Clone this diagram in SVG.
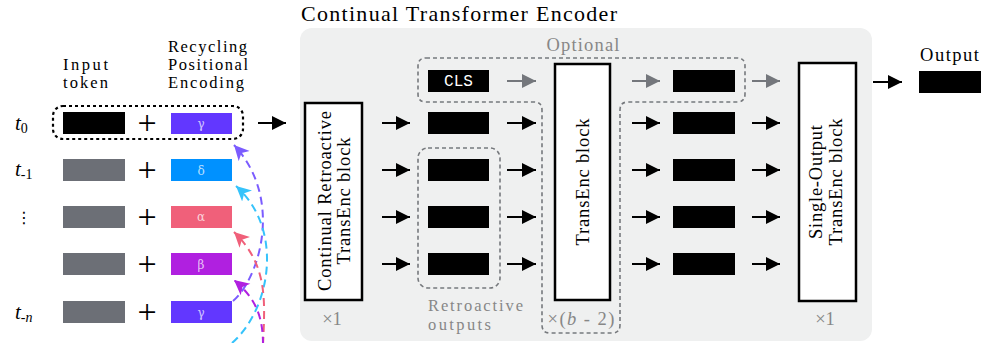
<svg xmlns="http://www.w3.org/2000/svg" width="981" height="343" viewBox="0 0 981 343">
<defs>
<style>
svg{font-family:"Liberation Serif","Times New Roman",serif;font-size:18.5px}
.g{fill:#878787}
.gl{fill:#fff;fill-opacity:.72;font-family:"DejaVu Serif",serif;font-size:12px;text-anchor:middle}
.tok{fill:#6c6f76}
.blk{fill:#000}
.arr{stroke:#000;stroke-width:2;marker-end:url(#ah)}
.garr{stroke:#74777c;stroke-width:2;marker-end:url(#gh)}
.box{fill:#fff;stroke:#000;stroke-width:2.5}
.dash{fill:none;stroke:#76797d;stroke-width:1.6;stroke-dasharray:4 3}
.arc{fill:none;stroke-width:2;stroke-dasharray:8 5}
.plus{font-size:34px;text-anchor:middle}
.sm{font-size:16.5px}
</style>
<marker id="ah" markerUnits="userSpaceOnUse" markerWidth="15" markerHeight="15" refX="14" refY="7.5" orient="auto"><path d="M0,0.5 L14,7.5 L0,14.5 Z" fill="#000"/></marker>
<marker id="gh" markerUnits="userSpaceOnUse" markerWidth="15" markerHeight="15" refX="14" refY="7.5" orient="auto"><path d="M0,0.5 L14,7.5 L0,14.5 Z" fill="#74777c"/></marker>
<marker id="hv" markerUnits="userSpaceOnUse" markerWidth="16" markerHeight="16" refX="15" refY="8" orient="auto"><path d="M0,0.5 L15,8 L0,15.5 L4,8 Z" fill="#7b5cff"/></marker>
<marker id="hc" markerUnits="userSpaceOnUse" markerWidth="16" markerHeight="16" refX="15" refY="8" orient="auto"><path d="M0,0.5 L15,8 L0,15.5 L4,8 Z" fill="#36c3fb"/></marker>
<marker id="hp" markerUnits="userSpaceOnUse" markerWidth="16" markerHeight="16" refX="15" refY="8" orient="auto"><path d="M0,0.5 L15,8 L0,15.5 L4,8 Z" fill="#f0607a"/></marker>
<marker id="hm" markerUnits="userSpaceOnUse" markerWidth="16" markerHeight="16" refX="15" refY="8" orient="auto"><path d="M0,0.5 L15,8 L0,15.5 L4,8 Z" fill="#b020e0"/></marker>
</defs>

<!-- encoder container -->
<g id="encoder">
<rect x="300" y="28" width="572" height="313" rx="12" fill="#eff0f0"/>
<text x="301" y="21" font-size="22" textLength="316">Continual Transformer Encoder</text>
</g>

<!-- headers -->
<g id="header-input">
<text class="sm" x="63" y="70" textLength="45">Input</text>
<text class="sm" x="63" y="88" textLength="45">token</text>
</g>
<g id="header-pe">
<text class="sm" x="168" y="52" textLength="79">Recycling</text>
<text class="sm" x="168" y="70" textLength="80">Positional</text>
<text class="sm" x="168" y="88" textLength="76">Encoding</text>
</g>

<!-- time labels -->
<g id="time-labels">
<text x="15" y="130" font-style="italic" font-size="21">t<tspan font-style="normal" font-size="14" dy="3">0</tspan></text>
<text x="15" y="176" font-style="italic" font-size="21">t<tspan font-style="normal" font-size="14" dy="3">-1</tspan></text>
<text x="24" y="223" font-family="DejaVu Sans, sans-serif" font-size="16" text-anchor="middle">⋮</text>
<text x="15" y="319" font-style="italic" font-size="21">t<tspan font-style="normal" font-size="14" dy="3">-</tspan><tspan font-size="14">n</tspan></text>
</g>

<!-- input rows -->
<g id="row-t0">
<rect class="blk" x="63" y="112" width="62" height="22"/>
<text class="plus" x="147" y="134">+</text>
<rect x="171" y="113" width="61" height="21" fill="#6237ff"/>
<text class="gl" x="201" y="128">γ</text>
<rect x="53" y="106" width="190" height="33" rx="10" fill="none" stroke="#000" stroke-width="2.2" stroke-dasharray="3 3"/>
</g>
<g id="row-t1">
<rect class="tok" x="63" y="159" width="62" height="22"/>
<text class="plus" x="147" y="181">+</text>
<rect x="171" y="159" width="61" height="22" fill="#0091ff"/>
<text class="gl" x="201" y="175">δ</text>
</g>
<g id="row-t2">
<rect class="tok" x="63" y="206" width="62" height="22"/>
<text class="plus" x="147" y="228">+</text>
<rect x="171" y="206" width="61" height="22" fill="#f0607a"/>
<text class="gl" x="201" y="221">α</text>
</g>
<g id="row-t3">
<rect class="tok" x="63" y="253" width="62" height="22"/>
<text class="plus" x="147" y="275">+</text>
<rect x="171" y="253" width="61" height="22" fill="#b020e0"/>
<text class="gl" x="201" y="269">β</text>
</g>
<g id="row-tn">
<rect class="tok" x="63" y="301" width="62" height="22"/>
<text class="plus" x="147" y="323">+</text>
<rect x="171" y="301" width="61" height="22" fill="#6237ff"/>
<text class="gl" x="201" y="317">γ</text>
</g>

<!-- first block -->
<g id="block-retro">
<rect class="box" x="305" y="103" width="57" height="197"/>
<text transform="translate(331,201) rotate(-90)" text-anchor="middle" textLength="180">Continual Retroactive</text>
<text transform="translate(350,201) rotate(-90)" text-anchor="middle" textLength="127">TransEnc block</text>
<text class="g" x="332" y="325" text-anchor="middle">×1</text>
</g>

<!-- column 1 -->
<g id="col1">
<rect class="blk" x="428" y="70" width="61" height="22"/>
<text x="458.5" y="86" font-family="Liberation Mono, monospace" font-size="16" fill="#fff" text-anchor="middle">CLS</text>
<rect class="blk" x="428" y="112" width="61" height="22"/>
<rect class="blk" x="428" y="159" width="61" height="22"/>
<rect class="blk" x="428" y="206" width="61" height="22"/>
<rect class="blk" x="428" y="253" width="61" height="22"/>
</g>
<g id="retro-outputs">
<rect class="dash" x="418" y="148" width="82" height="140" rx="10"/>
<text class="g sm" x="428" y="311" textLength="95">Retroactive</text>
<text class="g sm" x="428" y="330" textLength="63">outputs</text>
</g>

<!-- optional + repeated block region -->
<g id="optional">
<path class="dash" d="M426,58 H737 Q745,58 745,66 V94 Q745,102 737,102 H628 Q620,102 620,110 V325 Q620,333 612,333 H550 Q542,333 542,325 V110 Q542,102 534,102 H426 Q418,102 418,94 V66 Q418,58 426,58 Z"/>
<text class="g" x="583" y="51" text-anchor="middle" textLength="73">Optional</text>
<text class="g" x="581" y="325" text-anchor="middle" textLength="67">×(<tspan font-style="italic">b</tspan> - 2)</text>
</g>

<g id="block-transenc">
<rect class="box" x="555" y="64" width="55" height="236"/>
<text transform="translate(589,182) rotate(-90)" text-anchor="middle" textLength="127">TransEnc block</text>
</g>

<!-- column 2 -->
<g id="col2">
<rect class="blk" x="673" y="70" width="62" height="22"/>
<rect class="blk" x="673" y="112" width="62" height="22"/>
<rect class="blk" x="673" y="159" width="62" height="22"/>
<rect class="blk" x="673" y="206" width="62" height="22"/>
<rect class="blk" x="673" y="253" width="62" height="22"/>
</g>

<g id="block-single">
<rect class="box" x="799" y="63" width="57" height="238"/>
<text transform="translate(822,182) rotate(-90)" text-anchor="middle" textLength="114">Single-Output</text>
<text transform="translate(842,182) rotate(-90)" text-anchor="middle" textLength="127">TransEnc block</text>
<text class="g" x="825" y="325" text-anchor="middle">×1</text>
</g>

<g id="output">
<text x="920" y="61" textLength="59">Output</text>
<rect class="blk" x="919" y="71" width="62" height="22"/>
</g>

<!-- connectors -->
<g id="connectors">
<line class="arr" x1="258" y1="123" x2="286" y2="123"/>

<line class="arr" x1="382" y1="123" x2="410" y2="123"/>
<line class="arr" x1="382" y1="170" x2="410" y2="170"/>
<line class="arr" x1="382" y1="217" x2="410" y2="217"/>
<line class="arr" x1="382" y1="264" x2="410" y2="264"/>

<line class="garr" x1="507" y1="81" x2="536" y2="81"/>
<line class="arr" x1="507" y1="123" x2="536" y2="123"/>
<line class="arr" x1="507" y1="170" x2="536" y2="170"/>
<line class="arr" x1="507" y1="217" x2="536" y2="217"/>
<line class="arr" x1="507" y1="264" x2="536" y2="264"/>

<line class="garr" x1="632" y1="81" x2="660" y2="81"/>
<line class="arr" x1="632" y1="123" x2="660" y2="123"/>
<line class="arr" x1="632" y1="170" x2="660" y2="170"/>
<line class="arr" x1="632" y1="217" x2="660" y2="217"/>
<line class="arr" x1="632" y1="264" x2="660" y2="264"/>

<line class="garr" x1="752" y1="81" x2="780" y2="81"/>
<line class="arr" x1="752" y1="123" x2="780" y2="123"/>
<line class="arr" x1="752" y1="170" x2="780" y2="170"/>
<line class="arr" x1="752" y1="217" x2="780" y2="217"/>
<line class="arr" x1="752" y1="264" x2="780" y2="264"/>

<line class="arr" x1="873" y1="82" x2="902" y2="82"/>

<path class="arc" stroke="#7b5cff" marker-end="url(#hv)" d="M233,301 C258,280 285,200 234,145"/>
<path class="arc" stroke="#36c3fb" marker-end="url(#hc)" d="M232,343 C270,310 285,230 236,186"/>
<path class="arc" stroke="#f0607a" marker-end="url(#hp)" d="M263,345 C265,300 268,265 234,232"/>
<path class="arc" stroke="#b020e0" marker-end="url(#hm)" d="M263,345 C263,320 258,300 234,280"/>
</g>
</svg>
